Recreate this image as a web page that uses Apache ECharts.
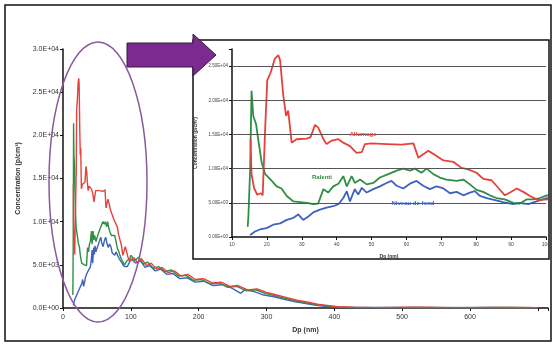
<!DOCTYPE html>
<html><head><meta charset="utf-8">
<script src="https://cdn.jsdelivr.net/npm/echarts@6/dist/echarts.min.js"></script>
<style>html,body{margin:0;padding:0;background:#fff}#c{width:555px;height:345px}</style>
</head><body><div id="c"></div>
<script>
// ---- data (Dp in nm, concentration) ----
const allumage = [[15.3,14300],[15.6,9200],[16.3,7200],[17.2,6200],[18.3,6400],[18.8,6100],[19.5,15800],[20.1,22900],[21.1,24100],[22.3,26100],[23.3,26600],[23.8,25800],[24.7,20700],[25.5,17700],[26.1,18500],[27.1,13800],[28.5,14300],[31.4,14400],[32.5,14600],[33.8,16400],[34.7,16000],[36.2,14300],[37.1,13600],[38.6,14100],[40.5,14300],[41.9,13800],[43.8,13300],[45.7,12300],[47.2,12400],[48.1,13600],[50,13700],[54.3,13600],[58.6,13500],[62,13700],[63.4,11600],[64.8,12100],[66.3,12600],[68.2,12000],[70.6,11200],[73.4,11000],[75.8,10100],[77.7,9900],[80.1,9400],[82,8500],[84.4,8300],[86.3,7200],[88.2,6100],[89.7,6500],[91.6,7100],[93.5,6600],[95.4,6000],[97.8,5400],[100.2,5500],
[105,5800],[110,5200],[116,5700],[123,4900],[130,5200],[138,4500],[146,4700],[155,4100],[164,4300],[174,3700],[184,3900],[195,3300],[207,3400],[220,2900],[233,3000],[246,2500],[258,2600],[272,2100],[286,2200],[300,1800],[315,1500],[330,1200],[345,900],[360,700],[375,450],[390,300],[405,150],[425,80],[460,40],[520,80],[580,40],[640,60],[700,30]];
const ralenti = [[14.5,1500],[14.7,3000],[15.2,9900],[15.6,21400],[16.1,17700],[16.9,16500],[17.5,14300],[18.5,10900],[19.5,9200],[20.1,8900],[21.4,8200],[22.8,7400],[24.2,7100],[25.7,6000],[27.6,5200],[29.5,5100],[31.4,5000],[33.3,4800],[34.7,4900],[36.2,7000],[37.6,6500],[39,7400],[40.5,7800],[41.9,8900],[42.9,7400],[44.3,8900],[45.2,7900],[46.7,8400],[48.6,7700],[50.5,7900],[52.4,8700],[54.8,9200],[57.2,9700],[59.1,10000],[61,9700],[62.4,10000],[64.3,9400],[65.8,10000],[67.7,9200],[69.6,8700],[71.5,8400],[74.4,8200],[76.3,8400],[78.2,7700],[80.1,6900],[82,6600],[83.9,6100],[85.8,5700],[88.2,5500],[90.6,5000],[92.5,4900],[94.4,5500],[96.3,5500],[98.3,5700],[100.2,6100],
[106,5500],[112,5900],[118,5100],[125,5300],[133,4600],[141,4800],[150,4200],[160,4400],[170,3700],[181,3800],[192,3200],[204,3300],[217,2800],[230,2900],[243,2400],[256,2500],[270,2000],[284,2100],[298,1700],[313,1400],[328,1100],[343,800],[358,600],[373,400],[388,250],[403,120],[430,60],[480,30],[540,70],[600,30],[660,50],[700,30]];
const niveauFond = [[15.2,300],[16.6,800],[18,1100],[19.9,1300],[21.8,1800],[23.8,2000],[25.7,2500],[27.6,2800],[29,3300],[30.4,2500],[31.9,3000],[33.3,3600],[35.2,4000],[37.1,4300],[39,4500],[40.5,4800],[41.9,5700],[42.9,6700],[43.8,5200],[45.2,7000],[46.2,6200],[47.2,7200],[48.6,6500],[50.5,7000],[52.4,7400],[54.3,7900],[55.7,8200],[57.2,7500],[59.1,7100],[61,7800],[62.9,8200],[64.8,7500],[66.7,7000],[68.6,7400],[70.6,7100],[72.5,6400],[74.4,6600],[76.3,6100],[78.2,6500],[79.6,6700],[81.1,6000],[83,5700],[85.4,5400],[87.7,5100],[90.6,4800],[92.5,5000],[94.9,4800],[97.3,5200],[100.2,5700],
[107,5200],[114,5500],[121,4700],[128,4900],[136,4300],[144,4500],[153,3900],[162,4000],[172,3400],[183,3500],[195,3000],[208,3100],[221,2600],[235,2700],[249,2300],[262,1700],[268,2100],[282,1900],[296,1500],[311,1300],[326,1000],[341,750],[356,550],[371,350],[386,200],[401,100],[440,50],[500,60],[560,30],[630,50],[700,30]];
const seriesNames = ['Allumage','Ralenti','Niveau de fond'];
const insetGridValues = [5000,10000,15000,20000,25000];
const yTitle = 'Concentration (p/cm³)';
const xTitle = 'Dp (nm)';

function sci(v, d){
  if (v === 0) return (0).toFixed(d) + 'E+00';
  const e = Math.floor(Math.log10(Math.abs(v)) + 1e-9);
  const m = v / Math.pow(10, e);
  return m.toFixed(d) + 'E' + (e < 0 ? '-' : '+') + String(Math.abs(e)).padStart(2, '0');
}
const colors = ['#e8403a', '#2f8f45', '#3f62c0'];
const datas = [allumage, ralenti, niveauFond];

const chart = echarts.init(document.getElementById('c'), null, {renderer: 'canvas'});
const axisLine = {lineStyle: {color: '#111', width: 1.5}};
const series = [];
// inset grid lines
series.push({type: 'line', xAxisIndex: 1, yAxisIndex: 1, data: [], z: 1, silent: true,
  markLine: {silent: true, symbol: 'none', label: {show: false}, animation: false,
    lineStyle: {color: '#555', type: 'solid', width: 1},
    data: insetGridValues.map(v => ({yAxis: v}))}});
[2,1,0].forEach(i => {
  series.push({name: seriesNames[i], type: 'line', data: datas[i], xAxisIndex: 0, yAxisIndex: 0,
    showSymbol: false, lineStyle: {color: colors[i], width: 1.4}, z: 3});
  series.push({name: seriesNames[i] + ' (zoom)', type: 'line', data: datas[i], xAxisIndex: 1, yAxisIndex: 1,
    showSymbol: false, lineStyle: {color: colors[i], width: 1.8}, z: 4});
});

chart.setOption({
  animation: false,
  backgroundColor: '#fff',
  grid: [
    {left: 63, right: 7, top: 49, bottom: 37},
    {left: 232, right: 9, top: 49, bottom: 108}
  ],
  xAxis: [
    {type: 'value', gridIndex: 0, min: 0, max: 715, interval: 100, splitLine: {show: false},
     axisLine: axisLine, axisTick: {show: true, length: 3, lineStyle: {color: '#111'}},
     axisLabel: {fontSize: 7, color: '#333', margin: 6, formatter: v => (v > 600 ? '' : String(v))},
     name: xTitle, nameLocation: 'middle', nameGap: 19,
     nameTextStyle: {fontSize: 7, color: '#333', fontWeight: 'bold'}},
    {type: 'value', gridIndex: 1, min: 10, max: 100, interval: 10, splitLine: {show: false},
     axisLine: axisLine, axisTick: {show: true, length: 3, lineStyle: {color: '#111'}},
     axisLabel: {fontSize: 5, color: '#444', margin: 5},
     name: xTitle, nameLocation: 'middle', nameGap: 17,
     nameTextStyle: {fontSize: 5, color: '#333', fontWeight: 'bold'}}
  ],
  yAxis: [
    {type: 'value', gridIndex: 0, min: 0, max: 30000, interval: 5000, splitLine: {show: false},
     axisLine: axisLine, axisTick: {show: true, length: 3, lineStyle: {color: '#111'}},
     axisLabel: {fontSize: 7, color: '#333', margin: 4, formatter: v => sci(v, 1)},
     name: yTitle, nameLocation: 'middle', nameGap: 40,
     nameTextStyle: {fontSize: 7, color: '#333', fontWeight: 'bold'}},
    {type: 'value', gridIndex: 1, min: 0, max: 27500, interval: 5000, splitLine: {show: false},
     axisLine: axisLine, axisTick: {show: true, length: 3, lineStyle: {color: '#111'}},
     axisLabel: {fontSize: 4.5, color: '#444', margin: 4, formatter: v => (v > 25000 ? '' : sci(v, 2))},
     name: yTitle, nameLocation: 'middle', nameGap: 27,
     nameTextStyle: {fontSize: 5, color: '#333', fontWeight: 'bold'}}
  ],
  series: series,
  graphic: [
    {type: 'rect', z: -20, shape: {x: 5, y: 5, width: 546, height: 336},
     style: {fill: '#fff', stroke: '#111', lineWidth: 1.5}},
    {type: 'rect', z: -10, shape: {x: 193, y: 40, width: 356, height: 219},
     style: {fill: '#fff', stroke: '#111', lineWidth: 1.5}},
    {type: 'ellipse', z: 50, shape: {cx: 98, cy: 182, rx: 49, ry: 140},
     style: {fill: 'none', stroke: '#8a5a9c', lineWidth: 1.5}},
    {type: 'polygon', z: 60, shape: {points: [[127,43],[193,43],[193,34],[216,55],[193,76],[193,67],[127,67]]},
     style: {fill: '#7b2a90', stroke: '#3a1846', lineWidth: 1}},
    {type: 'text', z: 70, style: {text: seriesNames[0], x: 363, y: 134, fill: colors[0], font: 'bold 6px sans-serif', textAlign: 'center', textVerticalAlign: 'middle'}},
    {type: 'text', z: 70, style: {text: seriesNames[1], x: 322, y: 177, fill: colors[1], font: 'bold 6px sans-serif', textAlign: 'center', textVerticalAlign: 'middle'}},
    {type: 'text', z: 70, style: {text: seriesNames[2], x: 413, y: 203, fill: colors[2], font: 'bold 6px sans-serif', textAlign: 'center', textVerticalAlign: 'middle'}}
  ]
});
</script></body></html>
